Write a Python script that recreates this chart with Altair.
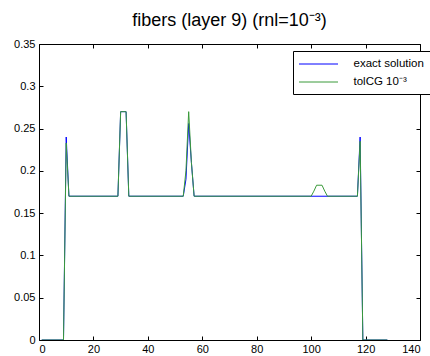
import altair as alt
import pandas as pd

# exact solution (blue) vertices
x_exact = [1, 9, 10, 11, 29, 30, 32, 33, 53, 54, 55, 56, 57, 117, 118, 119, 128]
y_exact = [0.0, 0.0, 0.24, 0.17, 0.17, 0.27, 0.27, 0.17, 0.17, 0.19, 0.256, 0.21, 0.17, 0.17, 0.24, 0.0, 0.0]

# tolCG 10^-3 (green) vertices
x_cg = [1, 9, 10, 11, 29, 30, 32, 33, 53, 54, 55, 56, 57, 100, 101, 102, 104, 105, 106, 117, 118, 119, 128]
y_cg = [0.0, 0.0, 0.233, 0.17, 0.17, 0.27, 0.27, 0.17, 0.17, 0.2, 0.27, 0.21, 0.17, 0.17, 0.176, 0.183, 0.183, 0.176, 0.17, 0.17, 0.235, 0.0, 0.0]

x_ticks = [0, 20, 40, 60, 80, 100, 120, 140]
y_ticks = [0, 0.05, 0.1, 0.15, 0.2, 0.25, 0.3, 0.35]
series_names = ["exact solution", "tolCG 10\u207b\u00b3"]
series_colors = ["#0000ff", "#3a9a3a"]
title_text = "fibers (layer 9) (rnl=10\u207b\u00b3)"

W, H = 381, 296
FONT = "Liberation Sans"

df_exact = pd.DataFrame({"x": x_exact, "y": y_exact, "series": series_names[0]})
df_cg = pd.DataFrame({"x": x_cg, "y": y_cg, "series": series_names[1]})

xscale = alt.Scale(domain=[0, 140], nice=False, zero=False)
yscale = alt.Scale(domain=[0, 0.35], nice=False, zero=False)
cscale = alt.Scale(domain=series_names, range=series_colors)

legend = alt.Legend(
    title=None, orient="none", legendX=254, legendY=7,
    symbolType="M-3,0H3", symbolSize=169, symbolStrokeWidth=1,
    symbolOffset=12.5, labelOffset=28,
    labelFont=FONT, labelFontSize=11.5, labelColor="black",
    padding=6, strokeColor="black", fillColor="white",
    rowPadding=5, cornerRadius=0, labelLimit=200,
)

base_axis = dict(grid=False, title=None, labelFont=FONT, labelFontSize=11,
                 labelColor="black", tickColor="black", domainColor="black",
                 domainWidth=1, tickWidth=1)

# layer 1: blue line, labelled axes (bottom / left)
blue = alt.Chart(df_exact).mark_line(strokeWidth=1, clip=True).encode(
    x=alt.X("x:Q", scale=xscale, axis=alt.Axis(orient="bottom", values=x_ticks, format="d",
                                               ticks=False, tickSize=0, labelPadding=3, **base_axis)),
    y=alt.Y("y:Q", scale=yscale, axis=alt.Axis(orient="left", values=y_ticks, format="~g",
                                               ticks=False, tickSize=0, labelPadding=4, **base_axis)),
    color=alt.Color("series:N", scale=cscale, legend=legend),
)

# layer 2: green line, inward ticks on bottom and left edges
green = alt.Chart(df_cg).mark_line(strokeWidth=1, clip=True).encode(
    x=alt.X("x:Q", scale=xscale, axis=alt.Axis(orient="top", offset=-H, values=x_ticks,
                                               labels=False, domain=False, tickSize=4, **base_axis)),
    y=alt.Y("y:Q", scale=yscale, axis=alt.Axis(orient="right", offset=-W, values=y_ticks,
                                               labels=False, domain=False, tickSize=4, **base_axis)),
    color=alt.Color("series:N", scale=cscale, legend=legend),
)

# layer 3: invisible, top / right border with inward ticks
frame = alt.Chart(df_cg).mark_line(strokeOpacity=0).encode(
    x=alt.X("x:Q", scale=xscale, axis=alt.Axis(orient="bottom", offset=-H, values=x_ticks,
                                               labels=False, domain=True, tickSize=4, **base_axis)),
    y=alt.Y("y:Q", scale=yscale, axis=alt.Axis(orient="left", offset=-W, values=y_ticks,
                                               labels=False, domain=True, tickSize=4, **base_axis)),
)

chart = alt.layer(blue, green, frame).resolve_axis(x="independent", y="independent").properties(
    width=W, height=H,
    title=alt.TitleParams(title_text, font=FONT, fontSize=18, fontWeight="normal",
                          color="black", anchor="middle", offset=8),
    autosize=alt.AutoSizeParams(type="none"),
    padding={"left": 39, "top": 44, "right": 10, "bottom": 16},
).configure_view(stroke=None).configure(background="white")

chart.save("out.html", embed_options={"renderer": "svg", "actions": False})
